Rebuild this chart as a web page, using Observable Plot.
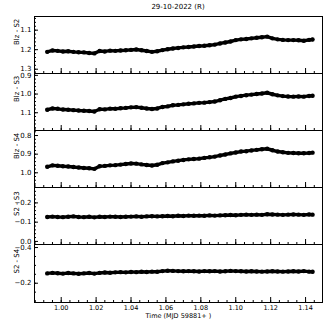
<!DOCTYPE html>
<html><head><meta charset="utf-8">
<script src="https://cdn.jsdelivr.net/npm/d3@7"></script>
<script src="https://cdn.jsdelivr.net/npm/@observablehq/plot@0.6"></script>
<style>
body{margin:0;background:#fff;font-family:"DejaVu Sans",sans-serif;}
#wrap{position:relative;width:327px;height:327px;overflow:hidden;}
.title{position:absolute;left:34px;width:288px;top:3px;text-align:center;font-size:7px;line-height:8px;color:#000;}
.p{position:absolute;left:0;}
svg{overflow:visible}
</style></head><body><div id="wrap"><div class="title" id="title"></div></div>
<script>
const title = "29-10-2022  (R)";
const xLabel = "Time (MJD 59881+ )";
const yLabels = ["Blz - S2", "Blz - S3", "Blz - S4", "S2 - S3", "S2 - S4"];

const time = [0.992,0.995,0.998,1.001,1.004,1.007,1.010,1.013,1.016,1.019,1.022,1.025,1.028,1.031,1.034,1.037,1.040,1.043,1.046,1.049,1.052,1.055,1.058,1.061,1.064,1.067,1.070,1.073,1.076,1.079,1.082,1.085,1.088,1.091,1.094,1.097,1.100,1.103,1.106,1.109,1.112,1.115,1.118,1.121,1.124,1.127,1.130,1.133,1.136,1.139,1.142,1.144];

const blzS2 = [1.211,1.204,1.206,1.209,1.208,1.211,1.213,1.214,1.217,1.219,1.207,1.209,1.205,1.206,1.204,1.203,1.201,1.199,1.203,1.207,1.211,1.208,1.202,1.198,1.194,1.191,1.188,1.186,1.184,1.181,1.180,1.177,1.174,1.168,1.163,1.158,1.151,1.147,1.145,1.142,1.139,1.136,1.133,1.142,1.147,1.150,1.151,1.151,1.152,1.154,1.150,1.148];

const blzS3 = [1.084,1.077,1.079,1.083,1.084,1.086,1.088,1.089,1.091,1.093,1.081,1.082,1.078,1.079,1.076,1.074,1.071,1.070,1.073,1.077,1.080,1.077,1.069,1.066,1.060,1.058,1.055,1.052,1.050,1.047,1.046,1.043,1.040,1.033,1.026,1.021,1.014,1.010,1.006,1.003,1.000,0.997,0.993,1.001,1.007,1.011,1.013,1.014,1.013,1.014,1.010,1.009];

const blzS4 = [0.968,0.960,0.962,0.965,0.966,0.969,0.972,0.974,0.976,0.979,0.965,0.963,0.960,0.959,0.956,0.953,0.950,0.951,0.955,0.958,0.961,0.957,0.948,0.944,0.939,0.935,0.931,0.928,0.926,0.924,0.920,0.917,0.913,0.907,0.902,0.896,0.891,0.886,0.884,0.880,0.877,0.874,0.871,0.879,0.886,0.890,0.893,0.894,0.895,0.895,0.894,0.892];

const s2S3 = [-0.127,-0.129,-0.127,-0.126,-0.128,-0.130,-0.127,-0.126,-0.128,-0.125,-0.128,-0.127,-0.129,-0.128,-0.127,-0.128,-0.129,-0.130,-0.128,-0.130,-0.131,-0.130,-0.131,-0.132,-0.131,-0.133,-0.132,-0.134,-0.133,-0.134,-0.133,-0.135,-0.134,-0.135,-0.136,-0.137,-0.136,-0.138,-0.139,-0.138,-0.139,-0.138,-0.141,-0.140,-0.139,-0.138,-0.139,-0.140,-0.139,-0.138,-0.140,-0.139];

const s2S4 = [-0.255,-0.258,-0.256,-0.254,-0.257,-0.255,-0.253,-0.255,-0.257,-0.254,-0.258,-0.260,-0.259,-0.261,-0.262,-0.261,-0.263,-0.262,-0.264,-0.263,-0.265,-0.264,-0.268,-0.270,-0.269,-0.268,-0.267,-0.268,-0.267,-0.266,-0.268,-0.267,-0.268,-0.266,-0.267,-0.269,-0.268,-0.267,-0.266,-0.267,-0.266,-0.265,-0.266,-0.267,-0.266,-0.265,-0.266,-0.267,-0.266,-0.268,-0.265,-0.264];

const xTicks = [1.00,1.02,1.04,1.06,1.08,1.10,1.12,1.14];
const yTicks = [[1.1,1.2,1.3],[0.9,1.0,1.1],[0.8,0.9,1.0],[-0.2,-0.1,0.0],[-0.4,-0.2]];

const series = [blzS2, blzS3, blzS4, s2S3, s2S4];
const yDomains = [[1.03,1.322],[0.89,1.195],[0.773,1.079],[-0.28,0.016],[-0.417,-0.092]];
const yMinorStep = [0.02,0.02,0.02,0.02,0.05];
const xDomain = [0.9847,1.1497];

document.getElementById("title").textContent = title;
const wrap = document.getElementById("wrap");
const tops = [16,73,130,187,244];
const heights = [57,57,57,57,58];
const font = "DejaVu Sans";

series.forEach((vals, i) => {
  const data = time.map((t, k) => ({t, v: vals[k]}));
  const last = i === series.length - 1;
  const mb = last ? 26 : 0;
  const [lo, hi] = yDomains[i];
  const minorY = d3.range(Math.ceil(lo / yMinorStep[i]) * yMinorStep[i], hi, yMinorStep[i]);
  const minorX = d3.range(0.985, 1.1497, 0.005);
  const marks = [
    Plot.frame({stroke: "black", strokeWidth: 1}),
    Plot.axisY(minorY, {tickSize: -2, fill: "none", label: null}),
    Plot.axisY(yTicks[i], {tickSize: -4, tickPadding: 7, tickFormat: d3.format(".1f"), label: null, fontSize: 7}),
    Plot.axisX(minorX, {tickSize: -2, fill: "none", label: null}),
    Plot.axisX(xTicks, {tickSize: -5, tickPadding: 8, tickFormat: d3.format(".2f"), label: null, fontSize: 6.5, fill: last ? "black" : "none"}),
    Plot.line(data, {x: "t", y: "v", stroke: "black", strokeWidth: 3.4}),
    Plot.dot(data, {x: "t", y: "v", r: 2.2, fill: "black", stroke: "none"}),
    Plot.text([yLabels[i]], {frameAnchor: "left", dx: -18, rotate: -90, fontSize: 7, fill: "#000"})
  ];
  if (last) marks.push(Plot.text([xLabel], {frameAnchor: "bottom", dy: 15, fontSize: 6.5, fill: "#000"}));
  const chart = Plot.plot({
    width: 327, height: heights[i] + mb,
    marginLeft: 34, marginRight: 5, marginTop: 0, marginBottom: mb,
    style: {fontFamily: font, fontSize: "7px", overflow: "visible", background: "transparent", color: "black"},
    x: {domain: xDomain},
    y: {domain: yDomains[i], reverse: true},
    marks
  });
  const div = document.createElement("div");
  div.className = "p";
  div.style.top = tops[i] + "px";
  div.appendChild(chart);
  wrap.appendChild(div);
});
</script></body></html>
